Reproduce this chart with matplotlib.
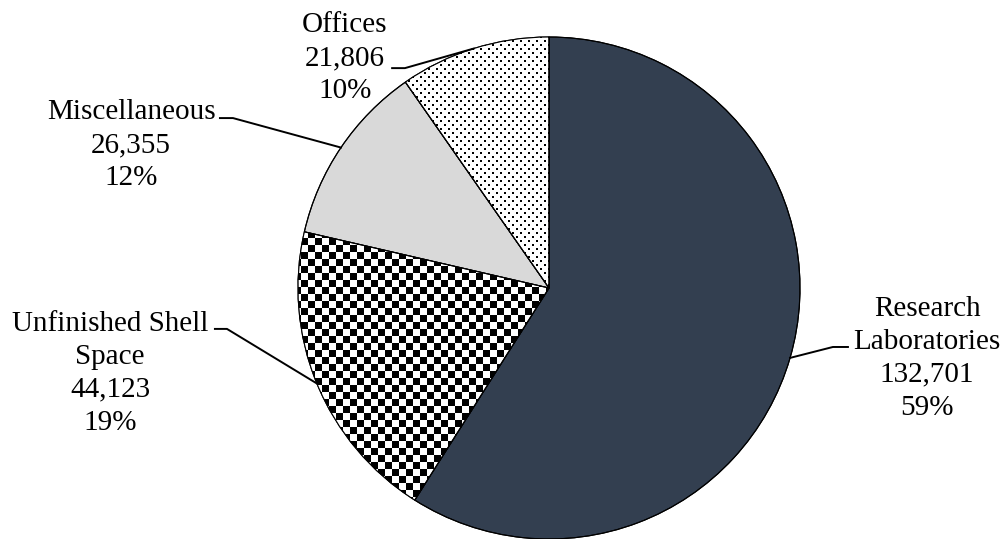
import numpy as np
import matplotlib.pyplot as plt
from matplotlib.patches import Wedge

# data, clockwise from 12 o'clock
categories = ["Research\nLaboratories", "Unfinished Shell\nSpace", "Miscellaneous", "Offices"]
areas = [132701, 44123, 26355, 21806]
percents = ["59%", "19%", "12%", "10%"]

plt.rcParams["font.family"] = ["Liberation Serif", "DejaVu Serif"]

W, H = 1003, 539
fig = plt.figure(figsize=(W / 100, H / 100), dpi=100)
ax = fig.add_axes([0, 0, 1, 1])

# pie centre / radius in pixels
cx, cy, R = 549, 288, 251
x0, x1 = -cx / R, (W - cx) / R
y0, y1 = -(H - cy) / R, cy / R

wedges, _ = ax.pie(areas, startangle=90, counterclock=False, radius=1,
                   colors=["#333f50", "white", "#d9d9d9", "white"],
                   wedgeprops=dict(edgecolor="black", linewidth=0.8))
ax.set_xlim(x0, x1)
ax.set_ylim(y0, y1)
ax.set_aspect("equal")
ax.axis("off")

# pattern fills (checkerboard and dots), clipped to their wedges
yy, xx = np.mgrid[0:H, 0:W]
checker = ((xx // 7 + yy // 7) % 2).astype(float)
dots = (((yy % 8 < 2) & (xx % 8 < 2)) | (((yy + 4) % 8 < 2) & ((xx + 4) % 8 < 2))).astype(float)
for img, w in [(checker, wedges[1]), (dots, wedges[3])]:
    rgba = np.ones((H, W, 4))
    rgba[..., :3] = 1 - img[..., None]
    im = ax.imshow(rgba, extent=(x0, x1, y0, y1), origin="upper",
                   interpolation="nearest", zorder=1.5)
    im.set_clip_path(w)
for w in wedges:
    w.set_zorder(1)
    ax.add_patch(Wedge(w.center, w.r, w.theta1, w.theta2, fill=False,
                       edgecolor="black", linewidth=0.8, zorder=2))

# label block centres, and leader start / knee (pie units)
label_pos = [(1.506, -0.279), (-1.749, -0.339), (-1.665, 0.570), (-0.813, 0.916)]
lead_start = [(1.191, -0.235), (-1.331, -0.163), (-1.311, 0.677), (-0.625, 0.876)]
lead_knee = [(1.131, -0.235), (-1.283, -0.163), (-1.259, 0.677), (-0.574, 0.876)]

for w, cat, val, pct, pos, s, k in zip(wedges, categories, areas, percents,
                                       label_pos, lead_start, lead_knee):
    ax.text(pos[0], pos[1], f"{cat}\n{val:,}\n{pct}", ha="center", va="center",
            fontsize=21, linespacing=1.35, color="black", zorder=3)
    mid = np.radians((w.theta1 + w.theta2) / 2)
    rim = (np.cos(mid), np.sin(mid))
    ax.plot([s[0], k[0], rim[0]], [s[1], k[1], rim[1]],
            color="black", linewidth=1.4, zorder=3)

fig.savefig("out.png", dpi=100, facecolor="white")
